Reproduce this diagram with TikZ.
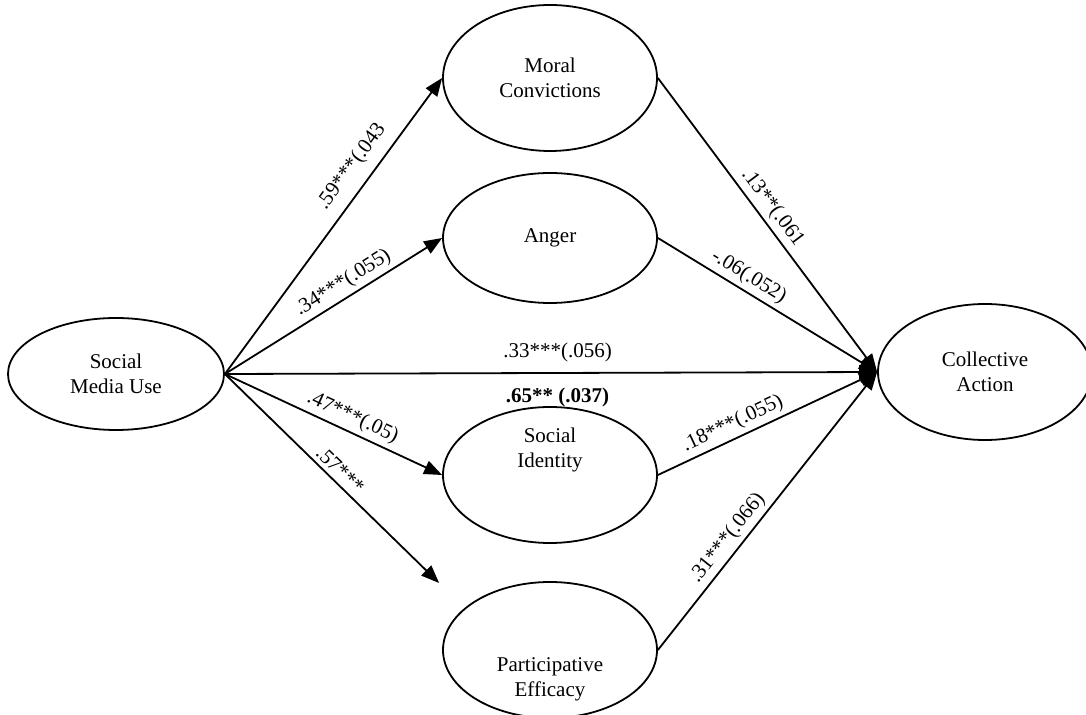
\documentclass[tikz,border=0pt]{standalone}
\usepackage{fontspec}
\setmainfont{Liberation Serif}
\usetikzlibrary{arrows.meta,shapes.geometric}
\begin{document}
\begin{tikzpicture}[x=0.5pt,y=-0.5pt,
    var/.style={draw,ellipse,line width=0.9pt,minimum width=107pt,minimum height=68pt,
      inner sep=0pt,align=center,font=\fontsize{10.5}{12.5}\selectfont},
    path/.style={line width=0.9pt,-{Triangle[length=9pt,width=7pt]}},
    coef/.style={font=\fontsize{10.5}{12.5}\selectfont,inner sep=2pt}]
  \useasboundingbox (0,0) rectangle (1086,715);
  \draw
    (116,374) node[var,minimum width=108pt,minimum height=56pt] (smu){Social\\Media Use}
    (550,78) node[var,minimum height=73pt] (mc){Moral\\Convictions}
    (550,238) node[var,minimum height=65pt] (ang){Anger}
    (550,475) node[var,text depth=27pt] (si){Social\\Identity}
    (550,650) node[var,text height=46pt,text depth=0pt] (pe){Participative\\Efficacy}
    (985,372) node[var] (ca){Collective\\Action};
  \coordinate (pein) at ([xshift=-1.5pt,yshift=33.5pt]pe.west);
  \begin{scope}[path]
    \draw (smu.east) to node[coef,sloped,above=3pt,pos=0.66]{.59***(.043} (mc.west);
    \draw (smu.east) to node[coef,sloped,above,pos=0.58]{.34***(.055)} (ang.west);
    \draw (smu.east) to node[coef,above=3pt,pos=0.51]{.33***(.056)}
      node[coef,below=5pt,pos=0.51,font=\fontsize{10.5}{12.5}\selectfont\bfseries]{.65** (.037)} (ca.west);
    \draw (smu.east) to node[coef,sloped,above,pos=0.56]{.47***(.05)} (si.west);
    \draw (smu.east) to node[coef,sloped,above,pos=0.5]{.57***} (pein);
    \draw (mc.east) to node[coef,sloped,above,pos=0.47]{.13**(.061} (ca.west);
    \draw (ang.east) to node[coef,sloped,above,pos=0.38]{-.06(.052)} (ca.west);
    \draw (si.east) to node[coef,sloped,above,pos=0.37]{.18***(.055)} (ca.west);
    \draw (pe.east) to node[coef,sloped,above,pos=0.37]{.31***(.066)} (ca.west);
  \end{scope}
\end{tikzpicture}
\end{document}
